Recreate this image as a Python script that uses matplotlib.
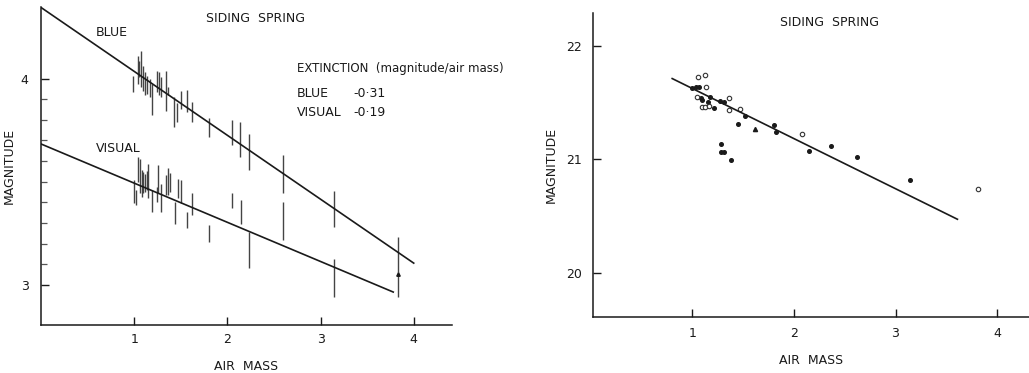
"""Siding Spring extinction plots: error bars vs air mass (left), magnitudes vs air mass (right)."""

import matplotlib
matplotlib.use("Agg")
import matplotlib.pyplot as plt
import numpy as np

INK = "#1a1a1a"
BAR = "#444444"

# left panel: vertical error bars (air mass, lower, upper magnitude)
blue_airmass = [0.99, 1.036, 1.054, 1.075, 1.097, 1.118, 1.143, 1.169, 1.19, 1.25, 1.27,
                1.29, 1.34, 1.36, 1.43, 1.46, 1.50, 1.57, 1.62, 1.80, 2.05, 2.14, 2.23,
                2.60, 3.14, 3.83]
blue_lo = [3.934, 3.974, 4.006, 3.958, 3.942, 3.918, 3.926, 3.910, 3.821, 3.934, 3.918,
           3.910, 3.845, 3.918, 3.765, 3.79, 3.853, 3.837, 3.789, 3.715, 3.676, 3.620,
           3.556, 3.443, 3.282, 3.06]
blue_hi = [4.014, 4.111, 4.087, 4.135, 4.063, 4.031, 4.014, 3.998, 3.974, 4.039, 4.031,
           4.006, 4.039, 3.958, 3.910, 3.88, 3.942, 3.945, 3.886, 3.807, 3.797, 3.789,
           3.733, 3.628, 3.456, 3.233]

visual_airmass = [1.00, 1.02, 1.04, 1.06, 1.08, 1.10, 1.12, 1.14, 1.15, 1.19, 1.24, 1.26,
                  1.29, 1.34, 1.36, 1.38, 1.44, 1.47, 1.50, 1.57, 1.62, 1.80, 2.05, 2.15,
                  2.23, 2.60, 3.14, 3.83]
visual_lo = [3.395, 3.386, 3.499, 3.443, 3.427, 3.443, 3.451, 3.46, 3.419, 3.354, 3.402,
             3.443, 3.354, 3.435, 3.435, 3.45, 3.297, 3.419, 3.395, 3.273, 3.338, 3.209,
             3.370, 3.295, 3.081, 3.217, 2.943, 2.943]
visual_hi = [3.507, 3.459, 3.620, 3.612, 3.556, 3.547, 3.539, 3.55, 3.588, 3.459, 3.475,
             3.580, 3.491, 3.531, 3.564, 3.54, 3.402, 3.515, 3.507, 3.354, 3.443, 3.290,
             3.443, 3.411, 3.258, 3.403, 3.124, 3.06]

# fitted extinction (magnitude / air mass)
blue_k, blue_zero = -0.31, 4.345
visual_k, visual_zero = -0.19, 3.683
blue_fit_range = (0.0, 4.0)
visual_fit_range = (0.0, 3.78)

# right panel: individual magnitudes
filled_airmass = [1.00, 1.03, 1.06, 1.09, 1.17, 1.15, 1.21, 1.27, 1.31, 1.52, 1.45,
                  1.80, 1.82, 1.28, 1.28, 1.31, 1.38, 2.15, 2.36, 2.62, 3.14, 1.08]
filled_mag = [21.63, 21.64, 21.64, 21.52, 21.55, 21.50, 21.45, 21.51, 21.50, 21.38, 21.31,
              21.30, 21.24, 21.135, 21.06, 21.06, 20.99, 21.07, 21.12, 21.02, 20.82, 21.54]
open_airmass = [1.05, 1.12, 1.13, 1.04, 1.09, 1.12, 1.16, 1.36, 1.36, 1.47, 2.08, 3.81]
open_mag = [21.72, 21.74, 21.64, 21.55, 21.46, 21.46, 21.47, 21.54, 21.43, 21.44, 21.22,
            20.74]
tri_airmass = [1.62]
tri_mag = [21.27]

mag_k, mag_zero = -0.441, 22.063
mag_fit_range = (0.80, 3.61)

plt.rcParams["font.family"] = ["DejaVu Sans"]
plt.rcParams["font.size"] = 8.5

fig = plt.figure(figsize=(10.29, 3.73), dpi=100)
ax1 = fig.add_axes([0.0398, 0.1287, 0.3994, 0.8525])
ax2 = fig.add_axes([0.5763, 0.1501, 0.4237, 0.8158])

for ax in (ax1, ax2):
    for side in ("top", "right"):
        ax.spines[side].set_visible(False)
    for side in ("left", "bottom"):
        ax.spines[side].set_linewidth(1.1)
        ax.spines[side].set_color(INK)
    ax.tick_params(direction="in", length=6, width=1.0, color=INK, labelcolor=INK,
                   labelsize=9)
    ax.tick_params(which="minor", direction="in", length=4, width=0.9, color="#555")
    ax.set_xticks([1, 2, 3, 4])
    ax.set_xlabel("AIR  MASS", fontsize=9, color=INK, labelpad=10)
    ax.set_ylabel("MAGNITUDE", fontsize=9, color=INK)

# left panel
ax1.vlines(blue_airmass, blue_lo, blue_hi, color=BAR, linewidth=1.0)
ax1.vlines(visual_airmass, visual_lo, visual_hi, color=BAR, linewidth=1.0)
xb = np.array(blue_fit_range)
xv = np.array(visual_fit_range)
ax1.plot(xb, blue_zero + blue_k * xb, color=INK, linewidth=1.2)
ax1.plot(xv, visual_zero + visual_k * xv, color=INK, linewidth=1.2)
ax1.plot([3.83], [3.05], marker="^", markersize=2.5, color=INK)

ax1.set_xlim(0, 4.41)
ax1.set_ylim(2.805, 4.347)
ax1.set_yticks([3, 4])
ax1.set_yticks(np.arange(3.1, 4.0, 0.1), minor=True)
ax1.yaxis.set_label_coords(-0.061, 0.5)
ax1.tick_params(axis="y", pad=9)
ax1.tick_params(axis="x", pad=6)

ax1.text(2.3, 4.29, "SIDING  SPRING", ha="center", va="center", color=INK, fontsize=9)
ax1.text(0.59, 4.222, "BLUE", ha="left", va="center", color=INK, fontsize=9)
ax1.text(0.59, 3.661, "VISUAL", ha="left", va="center", color=INK, fontsize=9)
ax1.text(2.75, 4.05, "EXTINCTION  (magnitude/air mass)", ha="left", va="center", color=INK)
ax1.text(2.75, 3.93, "BLUE", ha="left", va="center", color=INK, fontsize=9)
ax1.text(3.35, 3.93, f"{blue_k:.2f}".replace(".", "·"), ha="left", va="center",
         color=INK, fontsize=9)
ax1.text(2.75, 3.835, "VISUAL", ha="left", va="center", color=INK, fontsize=9)
ax1.text(3.35, 3.835, f"{visual_k:.2f}".replace(".", "·"), ha="left", va="center",
         color=INK, fontsize=9)

# right panel
ax2.plot(filled_airmass, filled_mag, linestyle="none", marker="o", markersize=2.6,
         color=INK)
ax2.plot(open_airmass, open_mag, linestyle="none", marker="o", markersize=3.2,
         markerfacecolor="white", markeredgecolor="#333", markeredgewidth=0.8)
ax2.plot(tri_airmass, tri_mag, linestyle="none", marker="^", markersize=3, color=INK)
xm = np.array(mag_fit_range)
ax2.plot(xm, mag_zero + mag_k * xm, color=INK, linewidth=1.2)

ax2.set_xlim(0.02, 4.315)
ax2.set_ylim(19.61, 22.29)
ax2.set_yticks([20, 21, 22])
ax2.yaxis.set_label_coords(-0.080, 0.5)
ax2.tick_params(axis="y", pad=8)
ax2.tick_params(axis="x", pad=7)
ax2.text(2.35, 22.2, "SIDING  SPRING", ha="center", va="center", color=INK, fontsize=9)

fig.savefig("out.png", dpi=100)
